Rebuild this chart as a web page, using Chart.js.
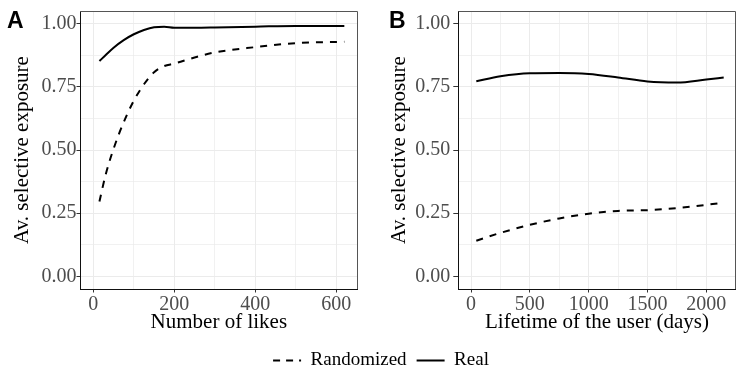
<!DOCTYPE html>
<html>
<head>
<meta charset="utf-8">
<title>Selective exposure</title>
<script src="https://cdn.jsdelivr.net/npm/chart.js@4.4.1/dist/chart.umd.min.js"></script>
<style>
  html, body { margin: 0; padding: 0; background: #fff; overflow: hidden; }
  #wrap { position: relative; width: 746px; height: 376px; overflow: hidden; }
  #wrap canvas { position: absolute; }
</style>
</head>
<body>
<div id="wrap">
  <canvas id="chartA" width="373" height="335" style="left:0;top:0"></canvas>
  <canvas id="chartB" width="373" height="335" style="left:373px;top:0"></canvas>
  <canvas id="legend" width="746" height="122" style="left:0;top:258px"></canvas>
</div>
<script>
// Panel A: number of likes
const likes = [15, 30, 50, 75, 100, 125, 150, 175, 200, 250, 300, 400, 500, 620];
const likesRandomized = [0.296, 0.40, 0.505, 0.61, 0.695, 0.76, 0.808, 0.832, 0.842, 0.866, 0.886, 0.907, 0.923, 0.928];
const likesReal = [0.852, 0.875, 0.905, 0.935, 0.958, 0.975, 0.986, 0.988, 0.984, 0.984, 0.985, 0.988, 0.991, 0.991];

// Panel B: lifetime of the user (days)
const lifetime = [45, 250, 500, 750, 1000, 1250, 1500, 1750, 2000, 2148];
const lifetimeRandomized = [0.141, 0.172, 0.204, 0.229, 0.248, 0.259, 0.262, 0.270, 0.283, 0.292];
const lifetimeReal = [0.772, 0.792, 0.804, 0.805, 0.801, 0.787, 0.771, 0.767, 0.779, 0.787];

// Ticks (major get labels, minor only get a grid line)
const yTicks = [0, 0.25, 0.5, 0.75, 1];
const yMinor = [0.125, 0.375, 0.625, 0.875];
const likesTicks = [0, 200, 400, 600];
const likesMinor = [100, 300, 500];
const lifetimeTicks = [0, 500, 1000, 1500, 2000];
const lifetimeMinor = [250, 750, 1250, 1750];

const seriesNames = ['Randomized', 'Real'];
const yTitle = 'Av. selective exposure';

const SERIF = '"Liberation Serif", "Times New Roman", serif';
const GRID = '#ebebeb';

// grey frame on top/right + bold panel letter
const framePlugin = {
    id: 'frame',
    afterDraw(chart, args, opts) {
        const { ctx, chartArea: a } = chart;
        ctx.save();
        ctx.strokeStyle = '#555';
        ctx.lineWidth = 1;
        ctx.beginPath();
        ctx.moveTo(a.left, Math.round(a.top) + 0.5);
        ctx.lineTo(Math.round(a.right) - 0.5, Math.round(a.top) + 0.5);
        ctx.lineTo(Math.round(a.right) - 0.5, a.bottom);
        ctx.stroke();
        ctx.fillStyle = '#000';
        ctx.font = 'bold 23px "Liberation Sans", Arial, sans-serif';
        ctx.textBaseline = 'alphabetic';
        ctx.fillText(opts.letter, opts.letterX, 28);
        ctx.restore();
    }
};

function tickSetter(major, minor) {
    return scale => {
        scale.ticks = [...major, ...minor].sort((a, b) => a - b).map(v => ({ value: v }));
    };
}

function makePanel(id, p) {
    const isMajorX = v => p.majorX.includes(v);
    const isMajorY = v => yTicks.includes(v);
    return new Chart(document.getElementById(id), {
        type: 'line',
        data: {
            datasets: [
                {
                    label: seriesNames[0],
                    data: p.xs.map((x, i) => ({ x: x, y: p.rand[i] })),
                    borderColor: '#000',
                    borderWidth: 2,
                    borderDash: [7, 7],
                    pointRadius: 0,
                    cubicInterpolationMode: 'monotone'
                },
                {
                    label: seriesNames[1],
                    data: p.xs.map((x, i) => ({ x: x, y: p.real[i] })),
                    borderColor: '#000',
                    borderWidth: 2,
                    pointRadius: 0,
                    cubicInterpolationMode: 'monotone'
                }
            ]
        },
        options: {
            responsive: false,
            animation: false,
            events: [],
            layout: { padding: { left: 0, right: p.padRight, top: 11, bottom: 0 } },
            scales: {
                x: {
                    type: 'linear',
                    min: p.xMin,
                    max: p.xMax,
                    afterBuildTicks: tickSetter(p.majorX, p.minorX),
                    afterFit: s => { s.height = 46; s.paddingLeft = 0; s.paddingRight = 0; },
                    ticks: {
                        autoSkip: false,
                        maxRotation: 0,
                        padding: 0.5,
                        color: '#4d4d4d',
                        font: { family: SERIF, size: 20 },
                        callback: v => isMajorX(v) ? String(v) : ''
                    },
                    grid: {
                        color: GRID,
                        lineWidth: c => isMajorX(c.tick.value) ? 1 : 0.7,
                        tickLength: 3.5,
                        tickColor: c => isMajorX(c.tick.value) ? '#333' : 'rgba(0,0,0,0)'
                    },
                    border: { display: true, color: '#111', width: 1 },
                    title: {
                        display: true,
                        text: p.xTitle,
                        color: '#000',
                        font: { family: SERIF, size: 21 },
                        padding: { top: 0, bottom: 0 }
                    }
                },
                y: {
                    type: 'linear',
                    min: -0.05,
                    max: 1.05,
                    afterBuildTicks: tickSetter(yTicks, yMinor),
                    afterFit: s => { s.width = p.axisW; s.paddingTop = 0; s.paddingBottom = 0; },
                    ticks: {
                        autoSkip: false,
                        padding: p.tickPad,
                        color: '#4d4d4d',
                        font: { family: SERIF, size: 20 },
                        callback: v => isMajorY(v) ? v.toFixed(2) : ''
                    },
                    grid: {
                        color: GRID,
                        lineWidth: c => isMajorY(c.tick.value) ? 1 : 0.7,
                        tickLength: p.tickLen,
                        tickColor: c => isMajorY(c.tick.value) ? '#333' : 'rgba(0,0,0,0)'
                    },
                    border: { display: true, color: '#111', width: 1 },
                    title: {
                        display: true,
                        text: yTitle,
                        color: '#000',
                        font: { family: SERIF, size: 21 },
                        padding: { top: p.yTitlePad, bottom: 0 }
                    }
                }
            },
            plugins: {
                legend: { display: false },
                tooltip: { enabled: false },
                frame: { letter: p.letter, letterX: p.letterX }
            }
        },
        plugins: [framePlugin]
    });
}

makePanel('chartA', {
    letter: 'A', letterX: 7,
    xs: likes, rand: likesRandomized, real: likesReal,
    xMin: -33, xMax: 653,
    majorX: likesTicks, minorX: likesMinor,
    xTitle: 'Number of likes',
    axisW: 80, padRight: 15.3, yTitlePad: 9.4, tickLen: 3.5, tickPad: 0
});

makePanel('chartB', {
    letter: 'B', letterX: 16,
    xs: lifetime, rand: lifetimeRandomized, real: lifetimeReal,
    xMin: -108, xMax: 2250,
    majorX: lifetimeTicks, minorX: lifetimeMinor,
    xTitle: 'Lifetime of the user (days)',
    axisW: 85.3, padRight: 10.3, yTitlePad: 13.4, tickLen: 5, tickPad: 3
});

// shared legend under both panels (transparent canvas overlapping the panels' bottom)
new Chart(document.getElementById('legend'), {
    type: 'line',
    data: {
        datasets: [
            { label: seriesNames[0], data: [], borderColor: '#000', borderWidth: 2, borderDash: [7, 6] },
            { label: seriesNames[1], data: [], borderColor: '#000', borderWidth: 2 }
        ]
    },
    options: {
        responsive: false,
        animation: false,
        events: [],
        layout: { padding: { left: 16, top: 0, bottom: 0 } },
        scales: { x: { display: false }, y: { display: false } },
        plugins: {
            tooltip: { enabled: false },
            legend: {
                position: 'bottom',
                labels: {
                    usePointStyle: true,
                    pointStyleWidth: 28,
                    padding: 10,
                    color: '#000',
                    font: { family: SERIF, size: 19 },
                    generateLabels: chart => chart.data.datasets.map((ds, i) => ({
                        text: ds.label,
                        fillStyle: ds.borderColor,
                        strokeStyle: ds.borderColor,
                        lineWidth: ds.borderWidth,
                        lineDash: ds.borderDash || [],
                        pointStyle: 'line',
                        hidden: false,
                        datasetIndex: i
                    }))
                }
            }
        }
    }
});
</script>
</body>
</html>
